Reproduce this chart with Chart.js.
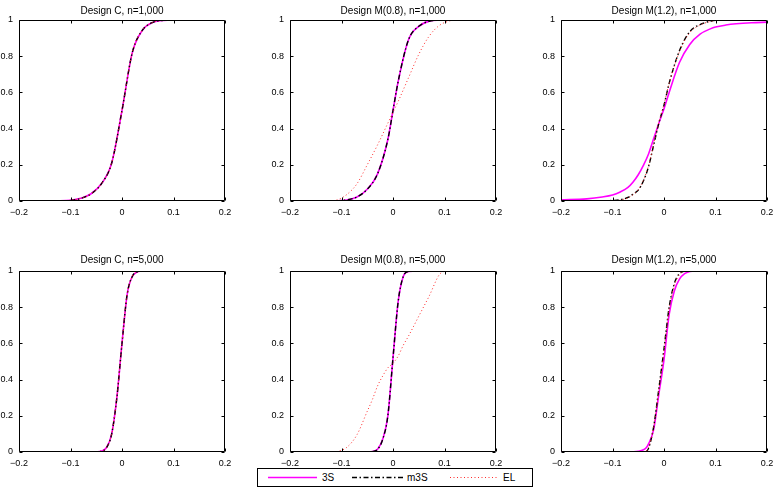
<!DOCTYPE html>
<html><head><meta charset="utf-8">
<script src="https://cdn.jsdelivr.net/npm/chart.js@4.4.0/dist/chart.umd.min.js"></script>
<style>
html,body{margin:0;padding:0;background:#fff;}
#wrap{position:relative;width:776px;height:492px;overflow:hidden;background:#fff;}
#wrap canvas{position:absolute;left:0;top:0;}
#legend{position:absolute;left:257px;top:468px;}
</style></head>
<body>
<div id="wrap">
<canvas id="p0" width="776" height="492"></canvas>
<canvas id="p1" width="776" height="492"></canvas>
<canvas id="p2" width="776" height="492"></canvas>
<canvas id="p3" width="776" height="492"></canvas>
<canvas id="p4" width="776" height="492"></canvas>
<canvas id="p5" width="776" height="492"></canvas>
<svg id="legend" width="277" height="20"></svg>
</div>
<script>
// ---------------- data ----------------
const seriesNames = ['3S', 'm3S', 'EL'];
const titles = ['Design C, n=1,000', 'Design M(0.8), n=1,000', 'Design M(1.2), n=1,000',
                'Design C, n=5,000', 'Design M(0.8), n=5,000', 'Design M(1.2), n=5,000'];
const xTickLabels = ['\u22120.2', '\u22120.1', '0', '0.1', '0.2'];
const yTickLabels = ['0', '0.2', '0.4', '0.6', '0.8', '1'];

// Design C, n=1,000
const xC1000   = [-0.13, -0.1, -0.08, -0.06, -0.04, -0.02, 0, 0.02, 0.04, 0.06, 0.08, 0.105];
const c1000_3S  = [0, 0.004, 0.015, 0.04, 0.095, 0.21, 0.5, 0.82, 0.945, 0.987, 0.998, 1];
const c1000_m3S = [null, 0.003, 0.014, 0.04, 0.095, 0.21, 0.5, 0.82, 0.945, 0.987, 0.998, 1];
const c1000_EL  = [0, 0.004, 0.015, 0.04, 0.096, 0.21, 0.5, 0.82, 0.945, 0.987, 0.998, 1];

// Design M(0.8), n=1,000
const xM08a    = [-0.13, -0.11, -0.09, -0.07, -0.05, -0.03, -0.01, 0, 0.01, 0.03, 0.05, 0.07, 0.09, 0.11, 0.12];
const m08a_3S  = [0, 0.001, 0.006, 0.022, 0.065, 0.15, 0.34, 0.5, 0.66, 0.89, 0.965, 0.993, 0.999, 1, null];
const m08a_m3S = [null, 0.001, 0.006, 0.022, 0.065, 0.15, 0.34, 0.5, 0.66, 0.89, 0.965, 0.993, 0.999, 1, null];
const m08a_EL  = [0, 0.005, 0.035, 0.095, 0.2, 0.31, 0.43, 0.49, 0.55, 0.68, 0.81, 0.91, 0.97, 0.995, 1];

// Design M(1.2), n=1,000
const xM12a    = [-0.2, -0.15, -0.12, -0.1, -0.085, -0.07, -0.06, -0.05, -0.04, -0.03, -0.02, -0.01, 0, 0.01, 0.03, 0.05, 0.07, 0.09, 0.1, 0.12, 0.14, 0.17, 0.2];
const m12a_3S  = [0.006, 0.012, 0.022, 0.033, 0.05, 0.075, 0.105, 0.145, 0.197, 0.26, 0.345, 0.43, 0.51, 0.6, 0.765, 0.865, 0.922, 0.951, 0.961, 0.972, 0.979, 0.985, 0.988];
const m12a_m3S = [null, null, 0, 0.003, 0.007, 0.02, 0.038, 0.06, 0.11, 0.19, 0.31, 0.43, 0.53, 0.65, 0.83, 0.935, 0.975, 0.993, 0.998, 1, 1, null, null];
const m12a_EL  = [null, null, null, 0, 0.005, 0.018, 0.035, 0.062, 0.115, 0.195, 0.315, 0.435, 0.535, 0.65, 0.825, 0.93, 0.972, 0.992, 0.997, 1, null, null, null];

// Design C, n=5,000
const xC5000   = [-0.056, -0.05, -0.04, -0.03, -0.02, -0.01, 0, 0.01, 0.02, 0.03, 0.04, 0.055];
const c5000_3S  = [0, 0.001, 0.005, 0.025, 0.1, 0.3, 0.6, 0.87, 0.97, 0.995, 1, 1];
const c5000_m3S = [null, 0, 0.004, 0.024, 0.1, 0.3, 0.6, 0.87, 0.97, 0.995, 1, null];
const c5000_EL  = [0, 0.001, 0.005, 0.025, 0.1, 0.3, 0.6, 0.87, 0.97, 0.995, 1, 1];

// Design M(0.8), n=5,000
const xM08b    = [-0.11, -0.09, -0.07, -0.05, -0.04, -0.03, -0.02, -0.01, 0, 0.01, 0.02, 0.03, 0.05, 0.06, 0.07, 0.09, 0.1];
const m08b_3S  = [null, null, null, 0, 0.003, 0.015, 0.07, 0.2, 0.52, 0.83, 0.97, 0.997, 1, 1, null, null, null];
const m08b_m3S = [null, null, null, null, 0.002, 0.014, 0.07, 0.2, 0.52, 0.83, 0.97, 0.997, 1, null, null, null, null];
const m08b_EL  = [0, 0.025, 0.095, 0.225, 0.29, 0.365, 0.42, 0.465, 0.49, 0.53, 0.59, 0.64, 0.75, 0.805, 0.86, 0.98, 1];

// Design M(1.2), n=5,000
const xM12b    = [-0.2, -0.1, -0.07, -0.06, -0.05, -0.04, -0.035, -0.03, -0.02, -0.01, 0, 0.01, 0.02, 0.03, 0.04, 0.05, 0.06, 0.1, 0.2];
const m12b_3S  = [0, 0, 0, 0.001, 0.004, 0.012, 0.022, 0.045, 0.125, 0.32, 0.51, 0.76, 0.89, 0.955, 0.985, 0.997, 1, 1, 1];
const m12b_m3S = [null, null, null, null, null, null, 0, 0.02, 0.14, 0.35, 0.57, 0.8, 0.93, 0.985, 1, null, null, null, null];
const m12b_EL  = [null, null, null, null, null, 0, 0.004, 0.025, 0.14, 0.345, 0.56, 0.79, 0.92, 0.98, 0.997, 1, null, null, null];

// ---------------- layout / style ----------------
const FONT = '"Liberation Sans", Arial, Helvetica, sans-serif';
const colLR = [[19, 225], [290, 496], [561, 767]];
const rowTB = [[20, 201, 3], [271, 452, 4.5]]; // top, bottom, title gap
const Y_AXIS_W = 19, X_AXIS_H = 20, TITLE_LH = 12;
const styles = [
  {color: '#ff00ff', width: 1.6, dash: [], order: 3},
  {color: '#000000', width: 1.4, dash: [5, 2.5, 1.5, 2.5], order: 2},
  {color: '#ff2a2a', width: 1.0, dash: [1, 2.5], order: 1}
];

const panelData = [
  [xC1000, c1000_3S, c1000_m3S, c1000_EL],
  [xM08a, m08a_3S, m08a_m3S, m08a_EL],
  [xM12a, m12a_3S, m12a_m3S, m12a_EL],
  [xC5000, c5000_3S, c5000_m3S, c5000_EL],
  [xM08b, m08b_3S, m08b_m3S, m08b_EL],
  [xM12b, m12b_3S, m12b_m3S, m12b_EL]
];

function toPoints(xs, ys) {
  const pts = [];
  xs.forEach((x, i) => { if (ys[i] !== null && ys[i] !== undefined) pts.push({x: x, y: ys[i]}); });
  return pts;
}

const boxPlugin = {
  id: 'matlabBox',
  afterDatasetsDraw(chart) {
    const ctx = chart.ctx;
    const a = chart.chartArea;
    const L = Math.round(a.left) + 0.5, R = Math.round(a.right) - 0.5;
    const T = Math.round(a.top) + 0.5, B = Math.round(a.bottom) - 0.5;
    const tl = 3;
    ctx.save();
    ctx.strokeStyle = '#000';
    ctx.lineWidth = 1;
    ctx.beginPath();
    ctx.rect(L, T, R - L, B - T);
    const xs = chart.scales.x, ys = chart.scales.y;
    xs.ticks.forEach(t => {
      const p = Math.round(xs.getPixelForValue(t.value)) + 0.5;
      ctx.moveTo(p, B); ctx.lineTo(p, B - tl);
      ctx.moveTo(p, T); ctx.lineTo(p, T + tl);
    });
    ys.ticks.forEach(t => {
      const p = Math.round(ys.getPixelForValue(t.value)) + 0.5;
      ctx.moveTo(L, p); ctx.lineTo(L + tl, p);
      ctx.moveTo(R, p); ctx.lineTo(R - tl, p);
    });
    ctx.stroke();
    ctx.restore();
  }
};

panelData.forEach((pd, i) => {
  const [L, R] = colLR[i % 3];
  const [T, B, gap] = rowTB[Math.floor(i / 3)];
  const titleH = TITLE_LH + gap;
  const datasets = [1, 2, 3].map(k => ({
    label: seriesNames[k - 1],
    data: toPoints(pd[0], pd[k]),
    showLine: true,
    borderColor: styles[k - 1].color,
    backgroundColor: styles[k - 1].color,
    borderWidth: styles[k - 1].width,
    borderDash: styles[k - 1].dash,
    pointRadius: 0,
    pointHoverRadius: 0,
    cubicInterpolationMode: 'monotone',
    fill: false,
    order: styles[k - 1].order
  }));
  new Chart(document.getElementById('p' + i), {
    type: 'scatter',
    data: {datasets},
    options: {
      responsive: false,
      animation: false,
      events: [],
      layout: {padding: {left: L - Y_AXIS_W, right: 776 - R, top: T - titleH, bottom: 492 - B - X_AXIS_H}},
      plugins: {
        legend: {display: false},
        tooltip: {enabled: false},
        title: {display: true, text: titles[i], fullSize: false, color: '#000',
                font: {family: FONT, size: 10, weight: 'normal'}, padding: {top: 0, bottom: gap}}
      },
      scales: {
        x: {
          type: 'linear', min: -0.2, max: 0.2,
          grid: {display: false, drawTicks: false}, border: {display: false},
          ticks: {stepSize: 0.1, autoSkip: false, maxRotation: 0, padding: 6, color: '#000',
                  font: {family: FONT, size: 9},
                  callback: (v, idx) => xTickLabels[idx]},
          afterFit: s => { s.height = X_AXIS_H; s.paddingLeft = 0; s.paddingRight = 0; }
        },
        y: {
          type: 'linear', min: 0, max: 1,
          grid: {display: false, drawTicks: false}, border: {display: false},
          ticks: {stepSize: 0.2, autoSkip: false, padding: 6, color: '#000',
                  font: {family: FONT, size: 9},
                  callback: (v, idx) => yTickLabels[idx]},
          afterFit: s => { s.width = Y_AXIS_W; s.paddingTop = 0; s.paddingBottom = 0; }
        }
      }
    },
    plugins: [boxPlugin]
  });
});

// ---------------- legend ----------------
(function () {
  const svg = document.getElementById('legend');
  const NS = 'http://www.w3.org/2000/svg';
  const rect = document.createElementNS(NS, 'rect');
  rect.setAttribute('x', 0.5); rect.setAttribute('y', 0.5);
  rect.setAttribute('width', 275); rect.setAttribute('height', 18);
  rect.setAttribute('fill', '#fff'); rect.setAttribute('stroke', '#000'); rect.setAttribute('stroke-width', 1);
  svg.appendChild(rect);
  const items = [[11, 60, 65], [95, 146, 150], [193, 241, 246]];
  items.forEach((it, k) => {
    const ln = document.createElementNS(NS, 'line');
    ln.setAttribute('x1', it[0]); ln.setAttribute('x2', it[1]);
    ln.setAttribute('y1', 9.5); ln.setAttribute('y2', 9.5);
    ln.setAttribute('stroke', styles[k].color);
    ln.setAttribute('stroke-width', styles[k].width);
    if (styles[k].dash.length) ln.setAttribute('stroke-dasharray', styles[k].dash.join(' '));
    svg.appendChild(ln);
    const tx = document.createElementNS(NS, 'text');
    tx.setAttribute('x', it[2]); tx.setAttribute('y', 13);
    tx.setAttribute('font-family', FONT.replace(/"/g, "'"));
    tx.setAttribute('font-size', 10);
    tx.setAttribute('fill', '#000');
    tx.textContent = seriesNames[k];
    svg.appendChild(tx);
  });
})();
</script>
</body></html>
